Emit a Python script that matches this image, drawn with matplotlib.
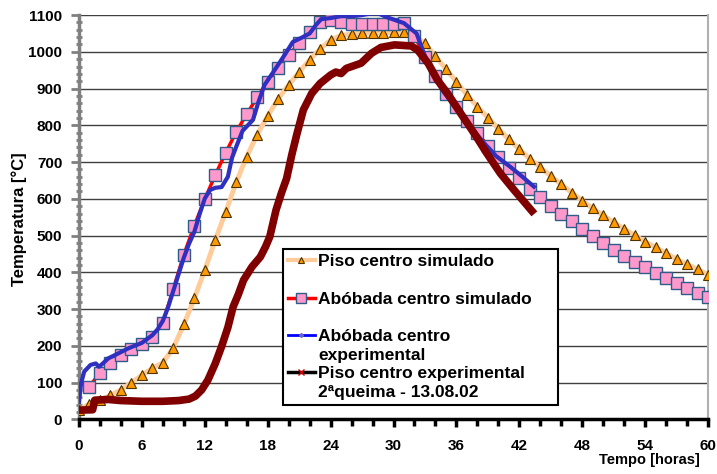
import numpy as np
import matplotlib
matplotlib.use("Agg")
import matplotlib.pyplot as plt
from matplotlib.lines import Line2D
from matplotlib.ticker import MultipleLocator

plt.rcParams['font.family'] = ['Liberation Sans', 'DejaVu Sans']
plt.rcParams['font.weight'] = 'bold'

# Piso centro simulado (hourly, 0..60 h)
piso_sim_t = list(range(0, 61))
piso_sim_T = [25, 42, 52, 65, 80, 100, 120, 139, 154, 195,
              258, 329, 406, 488, 565, 645, 715, 775, 826, 872,
              910, 945, 978, 1008, 1032, 1045, 1048, 1050, 1051, 1052,
              1053, 1053, 1043, 1023, 988, 953, 919, 883, 851, 821,
              791, 762, 735, 709, 686, 662, 639, 617, 595, 574,
              555, 536, 518, 501, 483, 468, 452, 436, 422, 408, 394]

# Abobada centro simulado (hourly, 1..60 h)
abob_sim_t = list(range(1, 61))
abob_sim_T = [89, 127, 152, 175, 190, 206, 223, 263, 355,
              448, 527, 599, 665, 726, 782, 831, 876, 919, 956,
              991, 1023, 1053, 1082, 1087, 1080, 1076, 1076, 1076, 1076,
              1076, 1078, 1043, 986, 935, 885, 849, 813, 778, 745,
              715, 683, 656, 628, 606, 581, 560, 539, 517, 499,
              481, 462, 445, 427, 414, 399, 384, 370, 356, 344, 332]

# Abobada centro experimental
abob_exp_t = [0, 0.2, 0.5, 1.1, 1.6, 1.9, 2.2, 2.8, 3.8, 4.7, 6, 7, 7.5, 8, 8.5,
              9, 9.5, 10, 10.5, 11, 11.5, 12, 12.5, 13.0, 13.6, 14.2, 14.6, 15.0,
              15.6, 16.1, 16.6, 17.1, 17.7, 18.7, 19.6, 20.4, 21.2, 22, 22.6, 23.1,
              24, 25, 26, 27, 27.7, 28.5, 29.4, 30.4, 31, 32.2, 32.9, 33.9, 34.8,
              36, 37.3, 38.6, 39.8, 41.1, 42.3, 43.4]
abob_exp_T = [48, 98, 130, 148, 152, 143, 150, 166, 180, 193, 208, 229, 245, 268, 305,
              350, 395, 440, 478, 510, 558, 601, 624, 630, 632, 660, 712, 742,
              785, 800, 815, 862, 910, 952, 991, 1027, 1038, 1050, 1073, 1089,
              1092, 1097, 1097, 1100, 1104, 1105, 1094, 1084, 1078, 1050, 996, 932, 890,
              845, 798, 753, 716, 688, 660, 633]

# Piso centro experimental (2a queima - 13.08.02)
piso_exp_t = [0, 1.3, 1.5, 2.8, 4, 6, 8, 9.5, 10.5, 11.1, 11.7, 12.3, 13, 13.6,
              14.2, 14.7, 15.2, 15.7, 16.5, 17.3, 17.8, 18.2, 18.8, 19.3, 19.8,
              20.3, 20.8, 21.4, 22.2, 23, 24, 24.5, 25, 25.5, 26, 26.9, 27.9, 28.8,
              30.1, 31.7, 32.3, 33.3, 34.2, 35.2, 36.4, 37.7, 38.9, 40.2, 41.5, 43.2]
piso_exp_T = [25, 26, 52, 54, 51, 49, 49, 51, 55, 63, 80, 107, 152, 198,
              250, 306, 340, 379, 415, 442, 470, 497, 570, 615, 655,
              720, 778, 842, 887, 914, 937, 945, 941, 955, 960, 969, 996, 1012,
              1019, 1016, 1005, 969, 923, 885, 833, 778, 724, 669, 624, 567]

labels = ['Piso centro simulado', 'Abóbada centro simulado',
          'Abóbada centro\nexperimental', 'Piso centro experimental\n2ªqueima - 13.08.02']

fig = plt.figure(figsize=(7.17, 4.74), dpi=100)
ax = fig.add_axes([79 / 717, 1 - 419.3 / 474, 629 / 717, 404.2 / 474])

ax.plot(piso_sim_t, piso_sim_T, color='#FFCC99', lw=3.5, marker='^', ms=7,
        mfc='#FF9900', mec='#4D3300', mew=0.8, zorder=3)
ax.plot(abob_sim_t, abob_sim_T, color='#FF0000', lw=2.5, marker='s', ms=8,
        mfc='#FF99CC', mec='#2F5D8A', mew=1, zorder=4)
ax.plot(abob_exp_t, abob_exp_T, color='#3030C0', lw=3, zorder=5)
ax.plot(piso_exp_t, piso_exp_T, color='#800000', lw=5.5, zorder=6)

ax.set_xlim(0, 60)
ax.set_ylim(0, 1100)
ax.xaxis.set_major_locator(MultipleLocator(6))
ax.xaxis.set_minor_locator(MultipleLocator(2))
ax.yaxis.set_major_locator(MultipleLocator(100))
ax.yaxis.set_minor_locator(MultipleLocator(20))
ax.yaxis.grid(True, color='#404040', lw=1)
ax.set_axisbelow(True)

ax.spines['top'].set_visible(False)
ax.spines['left'].set_color('#808080')
ax.spines['left'].set_linewidth(2.5)
ax.spines['bottom'].set_color('black')
ax.spines['bottom'].set_linewidth(2.5)
ax.spines['right'].set_color('#B0B0B0')
ax.spines['right'].set_linewidth(1.5)

ax.tick_params(axis='y', which='major', direction='out', length=6, width=2,
               color='#808080', labelsize=11, pad=6)
ax.tick_params(axis='y', which='minor', direction='inout', length=5, width=2,
               color='#808080')
ax.tick_params(axis='x', which='major', direction='out', length=6, width=2.5,
               color='black', labelsize=11, pad=8)
ax.tick_params(axis='x', which='minor', direction='out', length=5, width=2.5,
               color='black')

ax.set_xlabel('Tempo [horas]', fontsize=10.5, fontweight='bold', loc='right')
ax.xaxis.set_label_coords((700 - 79) / 629, -0.083)
ax.set_ylabel('Temperatura [°C]', fontsize=12, fontweight='bold')
ax.yaxis.set_label_coords(-0.082, 0.494)

blank = Line2D([], [], linestyle='none')
handles = [
    Line2D([], [], color='#FFCC99', lw=3, marker='^', ms=5, mfc='#FF9900', mec='#4D3300', mew=0.8),
    blank,
    Line2D([], [], color='#FF0000', lw=2.5, marker='s', ms=7, mfc='#FF99CC', mec='#2F5D8A', mew=1),
    blank,
    Line2D([], [], color='#0000FF', lw=2, marker='D', ms=2, mfc='#6666CC', mec='#6666CC'),
    blank,
    Line2D([], [], color='black', lw=2.5, marker='x', ms=4, mec='#CC0000', mew=1),
    blank,
]
# one row per text line; single-line entries get an empty row below them
leg_labels = []
for lab in labels:
    parts = lab.split('\n')
    leg_labels.append(parts[0])
    leg_labels.append(parts[1] if len(parts) > 1 else '')

leg = ax.legend(handles, leg_labels, loc='upper left',
                bbox_to_anchor=(0.324, 0.030, 0.4377, 0.391), mode='expand',
                borderaxespad=0, fancybox=False, frameon=True, edgecolor='black',
                framealpha=1, prop={'weight': 'bold', 'size': 12.5},
                handlelength=1.55, handletextpad=0.2, borderpad=0.3,
                labelspacing=0.2)
leg.get_frame().set_linewidth(1.5)
leg.set_zorder(10)

fig.savefig('out.png', dpi=100)
